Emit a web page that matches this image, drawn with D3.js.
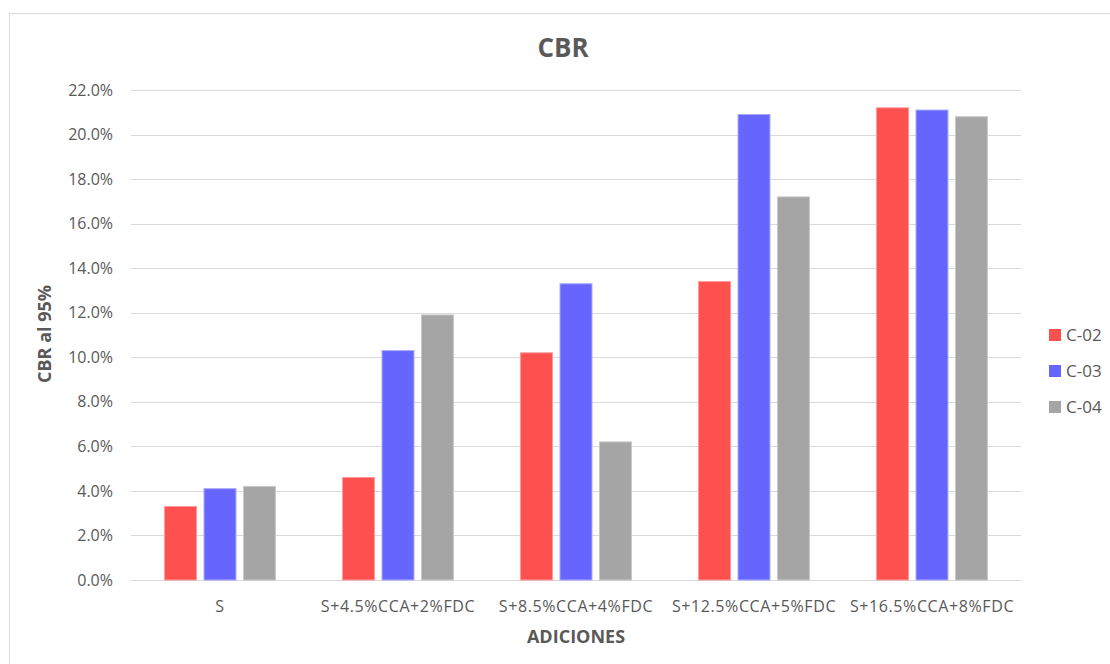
<!DOCTYPE html>
<html>
<head>
<meta charset="utf-8">
<script src="https://cdn.jsdelivr.net/npm/d3@7"></script>
<style>
  body { margin: 0; background: #fff; }
  svg { display: block; font-family: "Open Sans", "DejaVu Sans", sans-serif; }
</style>
</head>
<body>
<svg id="drawing_region"></svg>
<script>
// data
const categories = ["S", "S+4.5%CCA+2%FDC", "S+8.5%CCA+4%FDC", "S+12.5%CCA+5%FDC", "S+16.5%CCA+8%FDC"];
const seriesNames = ["C-02", "C-03", "C-04"];
const c02 = [3.3, 4.6, 10.2, 13.4, 21.2];
const c03 = [4.1, 10.3, 13.3, 20.9, 21.1];
const c04 = [4.2, 11.9, 6.2, 17.2, 20.8];
const yTicks = [0, 2, 4, 6, 8, 10, 12, 14, 16, 18, 20, 22];

const colors = ["#ff5050", "#6666ff", "#a5a5a5"];
const strokes = ["#ff9a9a", "#a8a8ff", "#c8c8c8"];

const W = 1110, H = 664;
const margin = { left: 131, right: 89, top: 90, bottom: 84 };

const svg = d3.select("#drawing_region")
    .attr("width", W)
    .attr("height", H);

// chart frame
svg.append("rect")
    .attr("x", 9.5).attr("y", 13.5)
    .attr("width", W + 20).attr("height", H + 20)
    .attr("fill", "none")
    .attr("stroke", "#d9d9d9");

const x0 = d3.scaleBand()
    .domain(categories)
    .range([margin.left, W - margin.right]);

const x1 = d3.scaleBand()
    .domain(seriesNames)
    .range([0, x0.bandwidth()])
    .paddingInner(0.19)
    .paddingOuter(0.85);

const y = d3.scaleLinear()
    .domain([0, 22])
    .range([H - margin.bottom, margin.top]);

// gridlines
svg.append("g")
    .selectAll("line")
    .data(yTicks)
    .enter()
    .append("line")
    .attr("x1", margin.left).attr("x2", W - margin.right)
    .attr("y1", d => Math.round(y(d)) + 0.5)
    .attr("y2", d => Math.round(y(d)) + 0.5)
    .attr("stroke", "#d9d9d9")
    .attr("stroke-width", 1);

// y tick labels
svg.append("g")
    .selectAll("text")
    .data(yTicks)
    .enter()
    .append("text")
    .attr("x", 113)
    .attr("y", d => y(d))
    .attr("dy", "0.35em")
    .attr("text-anchor", "end")
    .attr("fill", "#595959")
    .style("font-size", "16px")
    .text(d => d.toFixed(1) + "%");

// category labels
svg.append("g")
    .selectAll("text")
    .data(categories)
    .enter()
    .append("text")
    .attr("x", d => x0(d) + x0.bandwidth() / 2)
    .attr("y", 612)
    .attr("text-anchor", "middle")
    .attr("fill", "#595959")
    .style("font-size", "16px")
    .style("letter-spacing", "0.6px")
    .text(d => d);

// bars
const series = [c02, c03, c04];
const rows = [];
categories.forEach((c, i) => {
    seriesNames.forEach((s, j) => {
        rows.push({ cat: c, name: s, value: series[j][i], idx: j });
    });
});

svg.append("g")
    .selectAll("rect")
    .data(rows)
    .enter()
    .append("rect")
    .attr("x", d => x0(d.cat) + x1(d.name))
    .attr("y", d => y(d.value))
    .attr("width", x1.bandwidth())
    .attr("height", d => y(0) - y(d.value))
    .attr("fill", d => colors[d.idx])
    .attr("stroke", d => strokes[d.idx])
    .attr("stroke-width", 1);

// title
svg.append("text")
    .attr("x", 563).attr("y", 57)
    .attr("text-anchor", "middle")
    .attr("fill", "#595959")
    .style("font-size", "26px")
    .style("font-weight", "bold")
    .text("CBR");

// axis titles
svg.append("text")
    .attr("transform", "translate(51, 334) rotate(-90)")
    .attr("text-anchor", "middle")
    .attr("fill", "#595959")
    .style("font-size", "18px")
    .style("font-weight", "bold")
    .text("CBR al 95%");

svg.append("text")
    .attr("x", x0.range()[0] + (x0.range()[1] - x0.range()[0]) / 2)
    .attr("y", 643)
    .attr("text-anchor", "middle")
    .attr("fill", "#595959")
    .style("font-size", "18px")
    .style("font-weight", "bold")
    .text("ADICIONES");

// legend
const legend = svg.append("g")
    .selectAll("g")
    .data(seriesNames)
    .enter()
    .append("g")
    .attr("transform", (d, i) => `translate(1049, ${335 + i * 36})`);

legend.append("rect")
    .attr("x", 0).attr("y", -6)
    .attr("width", 12).attr("height", 12)
    .attr("fill", (d, i) => colors[i]);

legend.append("text")
    .attr("x", 17).attr("y", 0)
    .attr("dy", "0.35em")
    .attr("fill", "#595959")
    .style("font-size", "17px")
    .text(d => d);
</script>
</body>
</html>
